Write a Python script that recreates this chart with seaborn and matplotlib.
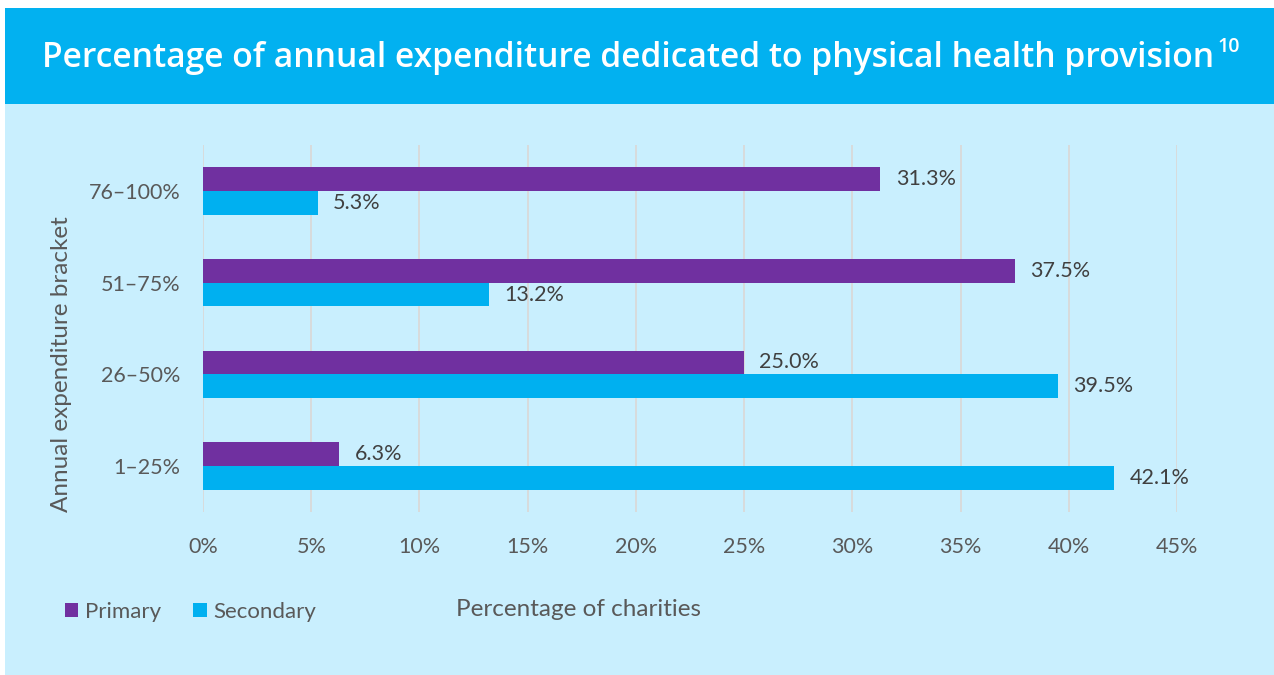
import matplotlib
matplotlib.use("Agg")
import matplotlib.pyplot as plt
import seaborn as sns
import pandas as pd
from matplotlib.patches import Rectangle

brackets = ["76–100%", "51–75%", "26–50%", "1–25%"]
primary = [31.3, 37.5, 25.0, 6.3]
secondary = [5.3, 13.2, 39.5, 42.1]
series_names = ["Primary", "Secondary"]
x_ticks = [0, 5, 10, 15, 20, 25, 30, 35, 40, 45]
title = "Percentage of annual expenditure dedicated to physical health provision"
title_sup = "10"
x_label = "Percentage of charities"
y_label = "Annual expenditure bracket"

PURPLE = "#7030A0"
BLUE = "#00B0F0"
PANEL = "#C9EFFE"
BANNER = "#02B1F0"
TICK_C = "#595959"
LABEL_C = "#404040"
FONT = "Lato"
TITLE_FONT = "Open Sans"

df = pd.DataFrame({
    "bracket": brackets * 2,
    "value": primary + secondary,
    "series": [series_names[0]] * 4 + [series_names[1]] * 4,
})

sns.set_theme(style="white")
plt.rcParams["font.family"] = [FONT, "DejaVu Sans"]

W, H = 1274, 675
fig = plt.figure(figsize=(W / 100, H / 100), dpi=100, facecolor="white")

# background panels
fig.patches.append(Rectangle((5 / W, 0), 1 - 5 / W, 571 / H, transform=fig.transFigure,
                             facecolor=PANEL, edgecolor="none", zorder=-5))
fig.patches.append(Rectangle((5 / W, 571 / H), 1 - 5 / W, 96 / H, transform=fig.transFigure,
                             facecolor=BANNER, edgecolor="none", zorder=-5))

ax = fig.add_axes([203 / W, 1 - 512 / H, 974 / W, 367 / H])
ax.set_facecolor("none")

sns.barplot(data=df, y="bracket", x="value", hue="series", order=brackets,
            hue_order=series_names, palette=[PURPLE, BLUE], orient="h",
            width=0.52, ax=ax, saturation=1, legend=True, linewidth=0)

for cont in ax.containers:
    ax.bar_label(cont, labels=[f"{v:.1f}%" for v in cont.datavalues], padding=11,
                 fontsize=15.5, color=LABEL_C, family=FONT)

ax.set_xlim(0, 45)
ax.set_ylim(3.5, -0.5)
ax.set_xticks(x_ticks)
ax.set_xticklabels([f"{t}%" for t in x_ticks])
ax.tick_params(axis="both", length=0, labelsize=15.5, labelcolor=TICK_C)
ax.tick_params(axis="x", pad=18)
ax.tick_params(axis="y", pad=16)
ax.xaxis.grid(True, color="#D9D9D9", linewidth=1.3)
ax.set_axisbelow(True)
for s in ax.spines.values():
    s.set_visible(False)
ax.set_xlabel("")
ax.set_ylabel("")

# legend
handles, labels = ax.get_legend_handles_labels()
ax.get_legend().remove()
fig.legend(handles, labels, loc="center left", bbox_to_anchor=(45 / W, 1 - 612 / H),
           ncol=2, frameon=False, fontsize=16, labelcolor=TICK_C,
           handlelength=0.6, handleheight=0.6, handletextpad=0.3, columnspacing=1.45)

fig.text(578 / W, 1 - 610 / H, x_label, ha="center", va="center", fontsize=17.5, color=TICK_C)
fig.text(62 / W, 1 - 364 / H, y_label, ha="center", va="center", rotation=90,
         fontsize=17.5, color=TICK_C)

t = fig.text(42 / W, 1 - 58 / H, title, ha="left", va="center", fontsize=24.2,
             color="white", family=[TITLE_FONT, "DejaVu Sans"], fontweight="semibold")
fig.canvas.draw()
bb = t.get_window_extent()
fig.text(bb.x1 / W + 3 / W, 1 - 47 / H, title_sup, ha="left", va="center", fontsize=14,
         color="white", family=[TITLE_FONT, "DejaVu Sans"], fontweight="semibold")

fig.savefig("out.png", dpi=100, facecolor="white")
